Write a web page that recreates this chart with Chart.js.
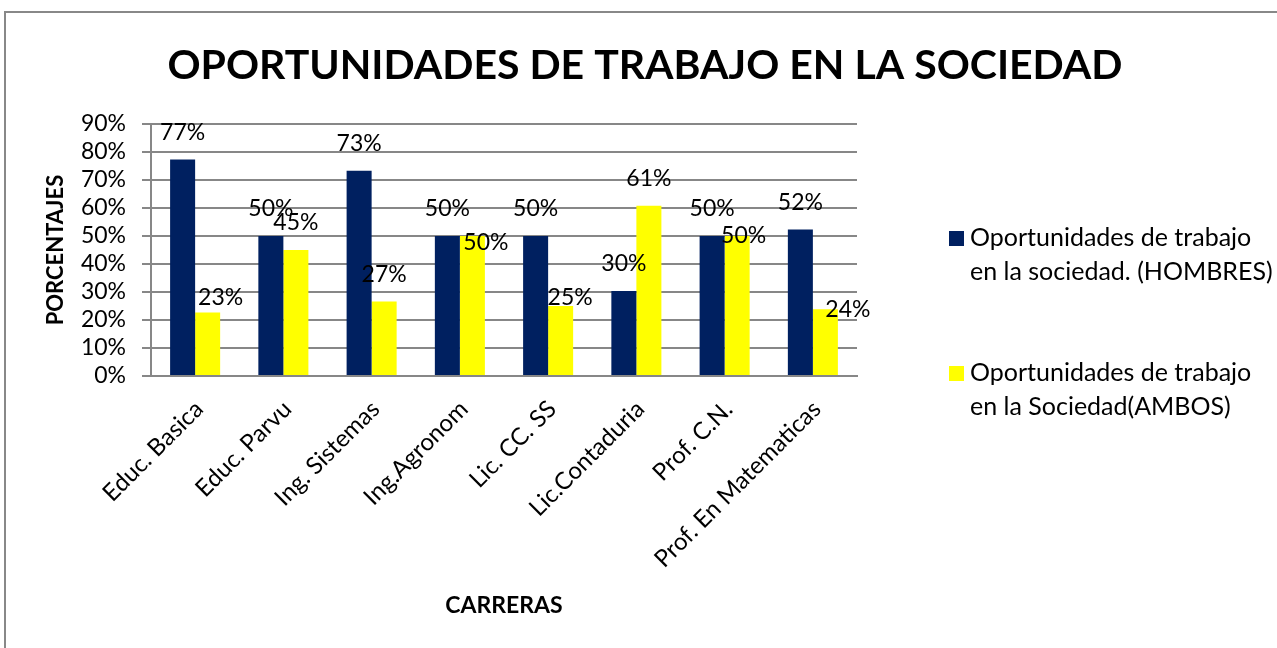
<!DOCTYPE html>
<html>
<head>
<meta charset="utf-8">
<script src="https://cdn.jsdelivr.net/npm/chart.js@4"></script>
<style>
  html, body { margin: 0; padding: 0; background: #ffffff; }
  canvas { display: block; }
</style>
</head>
<body>
<canvas id="c" width="1277" height="648"></canvas>
<script>
const categories = ["Educ. Basica", "Educ. Parvu", "Ing. Sistemas", "Ing.Agronom", "Lic. CC. SS", "Lic.Contaduria", "Prof. C.N.", "Prof. En Matematicas"];
const hombres = [77.3, 50, 73.3, 50, 50, 30.4, 50, 52.3];
const ambos = [22.7, 45, 26.6, 50, 25, 60.8, 50, 23.8];
const seriesNames = [["Oportunidades de trabajo", "en la sociedad. (HOMBRES)"], ["Oportunidades de trabajo", "en la Sociedad(AMBOS)"]];
const yTicks = [0, 10, 20, 30, 40, 50, 60, 70, 80, 90];
const titleText = "OPORTUNIDADES DE TRABAJO EN LA SOCIEDAD";
const yTitle = "PORCENTAJES";
const xTitle = "CARRERAS";

const FONT = "Lato, 'Open Sans', sans-serif";
const NAVY = "#002060";
const YELLOW = "#FFFF00";
const GRID = "#878787";

const decor = {
  id: "decor",
  beforeDraw(chart) {
    const ctx = chart.ctx;
    ctx.save();
    ctx.fillStyle = "#fff";
    ctx.fillRect(0, 0, chart.width, chart.height);
    ctx.strokeStyle = "#888888";
    ctx.lineWidth = 2;
    ctx.strokeRect(5, 12, chart.width + 20, chart.height + 20);
    ctx.restore();
  },
  afterDraw(chart) {
    const ctx = chart.ctx;
    const ca = chart.chartArea;
    ctx.save();
    ctx.fillStyle = "#000";
    // title
    ctx.font = "bold 41px " + FONT;
    ctx.textAlign = "center";
    ctx.textBaseline = "middle";
    ctx.fillText(titleText, 645, 66);
    // axis titles
    ctx.font = "bold 23px " + FONT;
    ctx.fillText(xTitle, 504, 606);
    ctx.font = "bold 22px " + FONT;
    ctx.save();
    ctx.translate(56, (ca.top + ca.bottom) / 2);
    ctx.rotate(-Math.PI / 2);
    ctx.fillText(yTitle, 0, 0);
    ctx.restore();
    // legend
    const colors = [NAVY, YELLOW];
    const legendTop = [238, 373];
    ctx.font = "25px " + FONT;
    ctx.textAlign = "left";
    seriesNames.forEach((lines, i) => {
      const y0 = legendTop[i];
      ctx.fillStyle = colors[i];
      ctx.fillRect(949, y0 - 7, 15, 15);
      ctx.fillStyle = "#000";
      lines.forEach((t, j) => ctx.fillText(t, 970, y0 + j * 34));
    });
    ctx.restore();
  },
  afterDatasetsDraw(chart) {
    const ctx = chart.ctx;
    // manual nudges of individual data labels, as in the original
    const nudges = { "1-0": [13, 12], "1-3": [13.5, 34], "1-4": [9.5, 19], "1-6": [6.5, 27], "1-7": [22.5, 27] };
    ctx.save();
    ctx.font = "23px " + FONT;
    ctx.fillStyle = "#000";
    ctx.textAlign = "center";
    ctx.textBaseline = "middle";
    chart.data.datasets.forEach((ds, di) => {
      const meta = chart.getDatasetMeta(di);
      meta.data.forEach((el, i) => {
        const n = nudges[di + "-" + i] || [0, 0];
        ctx.fillText(Math.round(ds.data[i]) + "%", el.x + n[0], el.y - 27 + n[1]);
      });
    });
    ctx.restore();
  }
};

new Chart(document.getElementById("c"), {
  type: "bar",
  data: {
    labels: categories,
    datasets: [
      { label: seriesNames[0].join(" "), data: hombres, backgroundColor: NAVY, borderWidth: 0 },
      { label: seriesNames[1].join(" "), data: ambos, backgroundColor: YELLOW, borderWidth: 0 }
    ]
  },
  options: {
    responsive: false,
    animation: false,
    devicePixelRatio: 1,
    layout: { padding: { left: 0, top: 124, right: 420, bottom: 0 } },
    datasets: { bar: { barPercentage: 1, categoryPercentage: 0.567 } },
    plugins: { legend: { display: false }, title: { display: false }, tooltip: { enabled: false } },
    scales: {
      x: {
        grid: { display: false, drawTicks: false },
        border: { display: true, color: GRID, width: 2 },
        ticks: { font: { family: FONT, size: 24 }, color: "#000", maxRotation: 45, minRotation: 45, padding: 19, labelOffset: 4, autoSkip: false },
        afterFit(s) { s.height = 272; }
      },
      y: {
        min: 0, max: 90,
        afterBuildTicks(s) { s.ticks = yTicks.map(v => ({ value: v })); },
        grid: { color: GRID, lineWidth: 2, tickLength: 9, drawTicks: true },
        border: { display: true, color: GRID, width: 2 },
        ticks: { font: { family: FONT, size: 23 }, color: "#000", padding: 16, autoSkip: false, callback: v => v + "%" },
        afterFit(s) { s.width = 151; }
      }
    }
  },
  plugins: [decor]
});
</script>
</body>
</html>
